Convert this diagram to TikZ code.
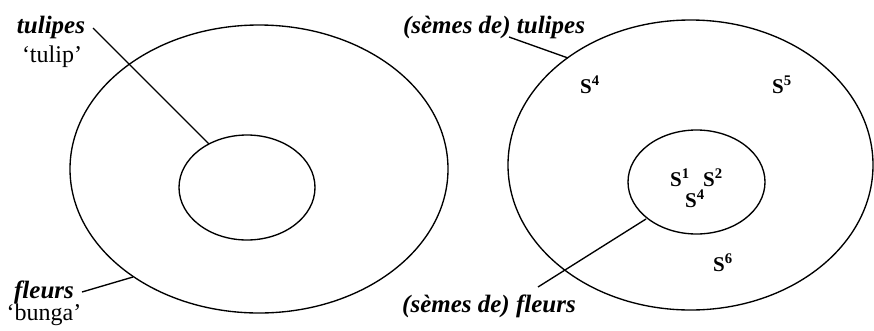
\documentclass[tikz,border=0pt]{standalone}
\usepackage{fontspec}
\setmainfont{Liberation Serif}
\begin{document}
\begin{tikzpicture}[x=1pt,y=-1pt,
  ell/.style={draw=black,line width=1.35pt},
  conn/.style={draw=black,line width=1.35pt},
  lbl/.style={inner sep=0pt,anchor=base,font=\fontsize{25}{27}\selectfont\bfseries\itshape},
  gloss/.style={inner sep=0pt,anchor=base,font=\fontsize{24}{26}\selectfont},
  seme/.style={inner sep=0pt,anchor=base,font=\fontsize{21}{23}\selectfont\bfseries}]
\useasboundingbox (0,0) rectangle (874,330);
% ellipses
\draw[ell] (259,169) ellipse [x radius=189pt, y radius=144pt];
\draw[ell] (247,187.5) ellipse [x radius=68pt, y radius=52.5pt];
\draw[ell] (690.5,165) ellipse [x radius=182.5pt, y radius=145pt];
\draw[ell] (696.5,182) ellipse [x radius=68.5pt, y radius=52pt];
% labels left
\node[lbl] (tul) at (51,33) {tulipes};
\node[gloss] (tulg) at (52,62) {‘tulip’};
\node[lbl] (fle) at (44,298) {fleurs};
\node[gloss] (fleg) at (44,320) {‘bunga’};
% labels right
\node[lbl] (stul) at (494,33) {(sèmes de) tulipes};
\node[lbl] (sfle) at (489,312) {(sèmes de) fleurs};
% semes
\node[seme] (s4a) at (590,93) {S\textsuperscript{4}};
\node[seme] (s5) at (782,93) {S\textsuperscript{5}};
\node[seme] (s1) at (680,186) {S\textsuperscript{1}};
\node[seme] (s2) at (713,186) {S\textsuperscript{2}};
\node[seme] (s4b) at (695,207) {S\textsuperscript{4}};
\node[seme] (s6) at (723,271) {S\textsuperscript{6}};
% connector endpoints
\coordinate (tulS) at (93,28);
\coordinate (tulE) at (209,144);
\coordinate (fleS) at (82,292);
\coordinate (fleE) at (133,277);
\coordinate (stulS) at (509,37);
\coordinate (stulE) at (568,58);
\coordinate (sfleS) at (538,287);
\coordinate (sfleE) at (646,219);
\draw[conn] (tulS) -- (tulE);
\draw[conn] (fleS) -- (fleE);
\draw[conn] (stulS) -- (stulE);
\draw[conn] (sfleS) -- (sfleE);
\end{tikzpicture}
\end{document}
